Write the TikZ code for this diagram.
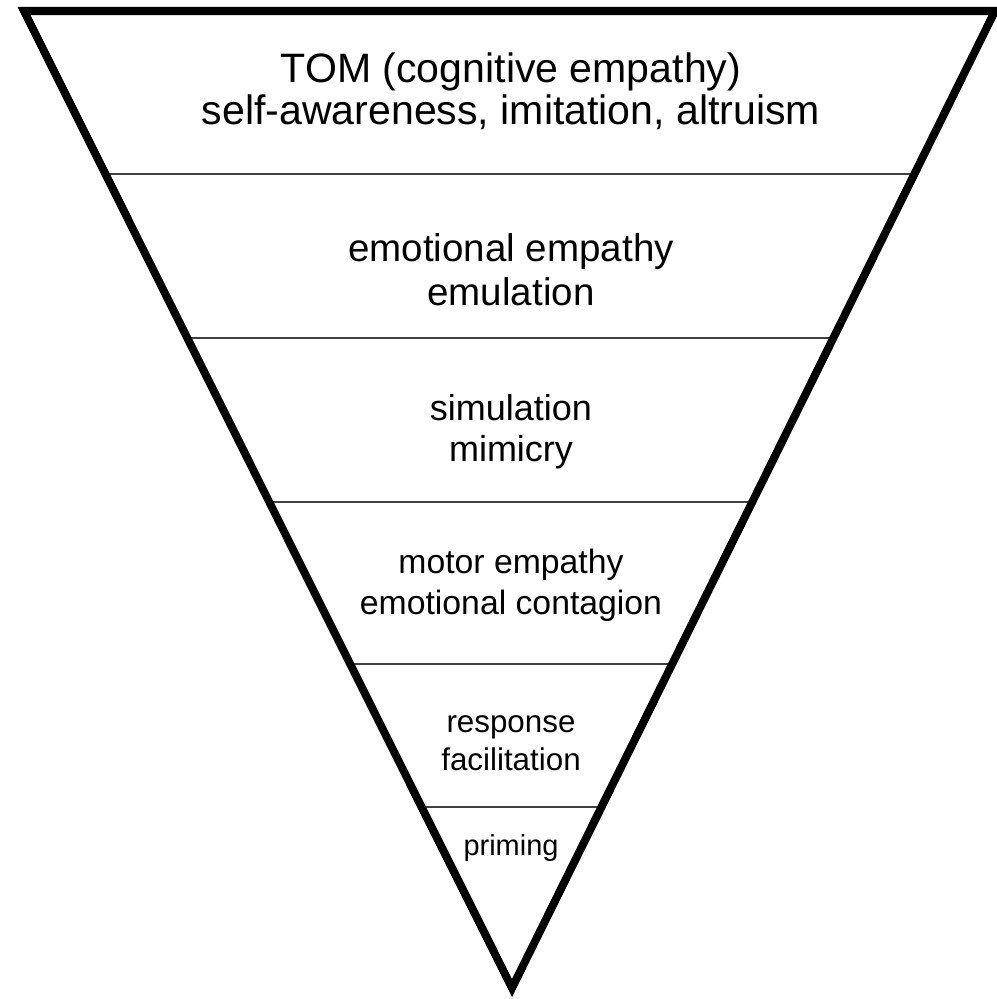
\documentclass[tikz,border=0pt]{standalone}
\usepackage{fontspec}
\setmainfont{Liberation Sans}
\usetikzlibrary{calc}

\begin{document}
\begin{tikzpicture}[x=0.025cm, y=-0.025cm,
    divider/.style={line width=1pt, draw=black!75},
    level/.style={align=center, inner sep=0pt}]
  \useasboundingbox (0,0) rectangle (996,999);

  \coordinate (tl) at (24,11);
  \coordinate (tr) at (995,11);
  \coordinate (apex) at (512,988);

  % dividers between the levels
  \draw[divider] ($(tl)!0.1668!(apex)$) -- ($(tr)!0.1668!(apex)$);
  \draw[divider] ($(tl)!0.3347!(apex)$) -- ($(tr)!0.3347!(apex)$);
  \draw[divider] ($(tl)!0.5026!(apex)$) -- ($(tr)!0.5026!(apex)$);
  \draw[divider] ($(tl)!0.6684!(apex)$) -- ($(tr)!0.6684!(apex)$);
  \draw[divider] ($(tl)!0.8147!(apex)$) -- ($(tr)!0.8147!(apex)$);

  \draw[line width=5.7pt, line join=miter] (tl) -- (tr) -- (apex) -- cycle;

  \node[level, font=\fontsize{29.2}{29.9}\selectfont] (tom) at (511,91)
    {TOM (cognitive empathy)\\self-awareness, imitation, altruism};
  \node[level, font=\fontsize{27.4}{31.3}\selectfont] (emo) at (511,270)
    {emotional empathy\\emulation};
  \node[level, font=\fontsize{25.6}{29.2}\selectfont] (sim) at (511,432)
    {simulation\\mimicry};
  \node[level, font=\fontsize{24}{29.2}\selectfont] (motor) at (511,585)
    {motor empathy\\emotional contagion};
  \node[level, font=\fontsize{22.3}{27}\selectfont] (resp) at (511,743)
    {response\\facilitation};
  \node[level, font=\fontsize{20.6}{24}\selectfont] (prim) at (511,848)
    {priming};
\end{tikzpicture}
\end{document}
